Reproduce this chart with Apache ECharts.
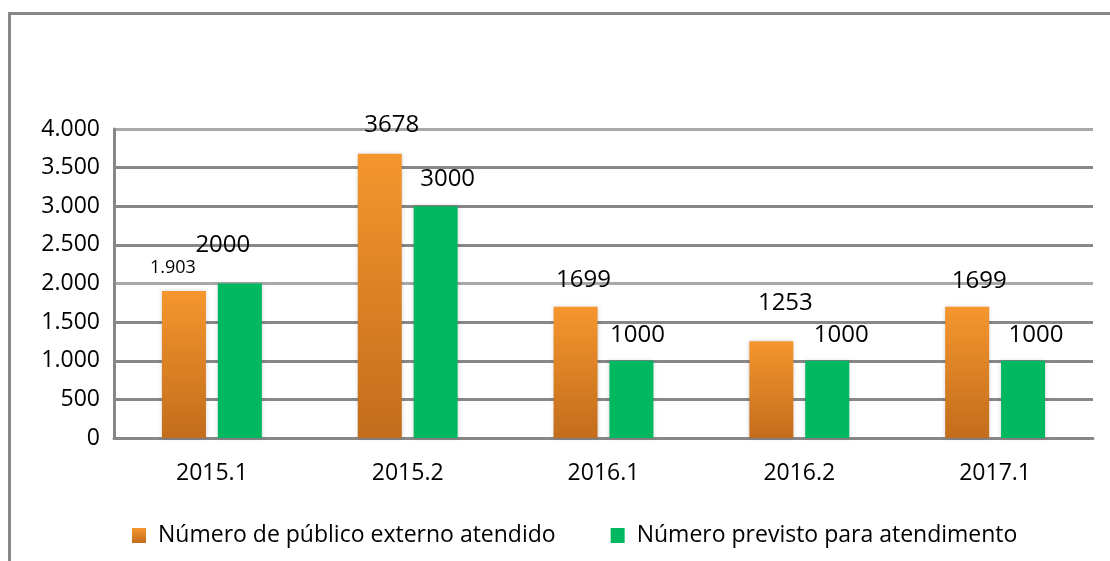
<!DOCTYPE html>
<html>
<head>
<meta charset="utf-8">
<script src="https://cdn.jsdelivr.net/npm/echarts@6/dist/echarts.min.js"></script>
<style>
  html, body { margin: 0; padding: 0; background: #fff; }
  #chart { width: 1110px; height: 561px; }
</style>
</head>
<body>
<div id="chart"></div>
<script>
var categories = ['2015.1', '2015.2', '2016.1', '2016.2', '2017.1'];
var atendido = [1903, 3678, 1699, 1253, 1699];
var previsto = [2000, 3000, 1000, 1000, 1000];
var atendidoText = ['1.903', '3678', '1699', '1253', '1699'];
var previstoText = ['2000', '3000', '1000', '1000', '1000'];
var seriesNames = ['Número de público externo atendido', 'Número previsto para atendimento'];

var FONT = '"Open Sans", sans-serif';

// label nudges
var atendidoOffsets = [[-11, -9], [12, -12], [8, -10], [14, -21], [12, -9]];
var previstoOffsets = [[-17, -21], [12, -10], [6, -9], [14, -9], [13, -9]];

var chart = echarts.init(document.getElementById('chart'));

var orange = new echarts.graphic.LinearGradient(0, 0, 0, 1, [
    { offset: 0, color: '#F5962E' },
    { offset: 1, color: '#C26D1C' }
]);

var atendidoData = atendido.map(function (v, i) {
    return {
        value: v,
        label: {
            formatter: atendidoText[i],
            fontSize: i === 0 ? 18 : 24,
            offset: atendidoOffsets[i]
        }
    };
});
var previstoData = previsto.map(function (v, i) {
    return {
        value: v,
        label: {
            formatter: previstoText[i],
            offset: previstoOffsets[i]
        }
    };
});

var option = {
    animation: false,
    graphic: [{
        type: 'rect',
        shape: { x: 9.5, y: 13.5, width: 1300, height: 700 },
        style: { fill: 'none', stroke: '#878787', lineWidth: 3 },
        silent: true
    }],
    grid: {
        left: 114,
        right: 17,
        top: 129,
        bottom: 123
    },
    legend: {
        left: 127,
        top: 519,
        itemWidth: 14,
        itemHeight: 15,
        itemGap: 55,
        icon: 'rect',
        data: seriesNames,
        textStyle: {
            fontFamily: FONT,
            fontSize: 23,
            color: '#000',
            padding: [0, 0, 0, 7]
        }
    },
    xAxis: {
        type: 'category',
        data: categories,
        axisLine: { lineStyle: { color: '#878787', width: 3 } },
        axisTick: { show: false },
        axisLabel: {
            fontFamily: FONT,
            fontSize: 23,
            color: '#000',
            margin: 24
        }
    },
    yAxis: {
        type: 'value',
        min: 0,
        max: 4000,
        interval: 500,
        axisLine: { show: true, lineStyle: { color: '#878787', width: 3 } },
        axisTick: { show: false },
        axisLabel: {
            fontFamily: FONT,
            fontSize: 23,
            color: '#000',
            margin: 14,
            formatter: function (v) {
                return v >= 1000 ? Math.floor(v / 1000) + '.' + ('00' + (v % 1000)).slice(-3) : String(v);
            }
        },
        splitLine: {
            lineStyle: {
                color: ['#878787', '#878787', '#878787', '#878787', '#a8a8a8', '#878787', '#878787', '#878787', '#a8a8a8'],
                width: 3
            }
        }
    },
    series: [
        {
            name: seriesNames[0],
            type: 'bar',
            barWidth: 44,
            barGap: '27%',
            itemStyle: {
                color: orange,
                shadowColor: 'rgba(0,0,0,0.18)',
                shadowBlur: 4
            },
            label: {
                show: true,
                position: 'top',
                fontFamily: FONT,
                fontSize: 24,
                color: '#000'
            },
            data: atendidoData
        },
        {
            name: seriesNames[1],
            type: 'bar',
            barWidth: 44,
            itemStyle: {
                color: '#00B85F',
                shadowColor: 'rgba(0,0,0,0.18)',
                shadowBlur: 4
            },
            label: {
                show: true,
                position: 'top',
                fontFamily: FONT,
                fontSize: 24,
                color: '#000'
            },
            data: previstoData
        }
    ]
};

option && chart.setOption(option);
</script>
</body>
</html>
